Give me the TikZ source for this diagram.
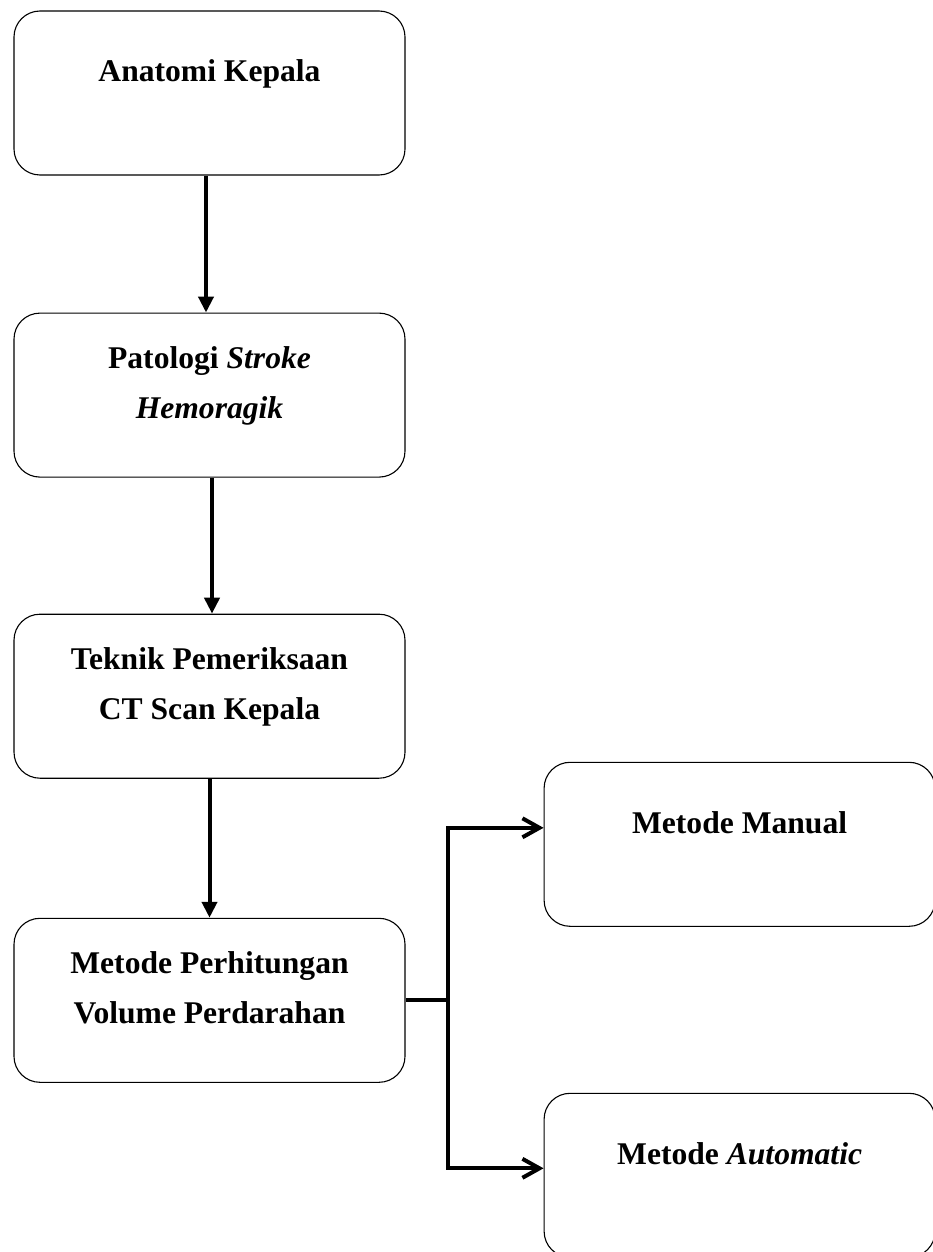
\documentclass[tikz,border=0pt]{standalone}
\usepackage{fontspec}
\setmainfont{Liberation Serif}
\usepackage{tikz}
\usetikzlibrary{positioning,arrows.meta}

\begin{document}
\begin{tikzpicture}[x=1pt, y=1pt, node distance=137pt,
  box/.style={draw, line width=1.1pt, rounded corners=26pt, minimum width=391pt, minimum height=164pt,
              inner sep=0pt, align=center, font=\fontsize{31.6}{50}\selectfont\bfseries},
  oneline/.style={box, text height=22pt, text depth=44pt},
  twoline/.style={box, text height=72pt, text depth=26pt},
  flow/.style={line width=4pt, -{Triangle[length=16pt,width=15pt]}},
  branch/.style={line width=4pt, -{Straight Barb[length=17pt,width=19pt]}}]
\useasboundingbox (0,0) rectangle (933,-1252);
\node[oneline] (anatomi) at (209.5,-93) {Anatomi Kepala};
\node[twoline, below=of anatomi] (patologi) {Patologi \textit{Stroke}\\\textit{Hemoragik}};
\node[twoline, below=136pt of patologi] (teknik) {Teknik Pemeriksaan\\CT Scan Kepala};
\node[twoline, below=139pt of teknik] (metode) {Metode Perhitungan\\Volume Perdarahan};
\node[oneline, right=of metode, xshift=1pt, yshift=156pt] (manual) {Metode Manual};
\node[oneline, right=of metode, xshift=1pt, yshift=-175pt] (automatic) {Metode \textit{Automatic}};
\draw[flow] ([xshift=-3.5pt]anatomi.south) -- ([xshift=-3.5pt]patologi.north);
\draw[flow] ([xshift=2.5pt]patologi.south) -- ([xshift=2.5pt]teknik.north);
\draw[flow] (teknik.south) -- (metode.north);
\draw[line width=4pt] (metode.east) -- ++(42,0) coordinate (fork);
\draw[branch] (fork) |- ([yshift=16.5pt]manual.west);
\draw[branch] (fork) |- ([yshift=7pt]automatic.west);
\end{tikzpicture}
\end{document}
